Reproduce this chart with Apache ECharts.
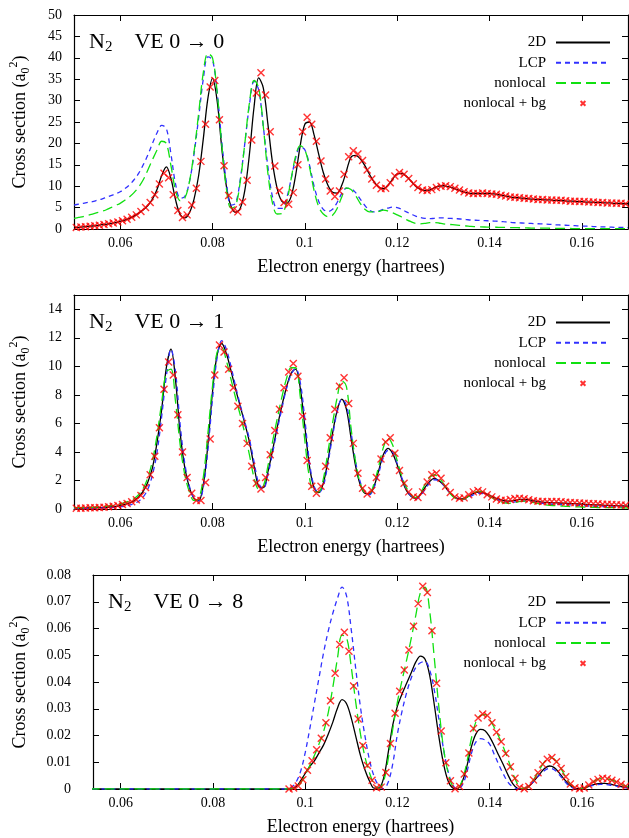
<!DOCTYPE html>
<html><head><meta charset="utf-8">
<script src="https://cdn.jsdelivr.net/npm/echarts@6/dist/echarts.min.js"></script>
<style>html,body{margin:0;padding:0;background:#fff}#c{width:629px;height:838px}</style>
</head><body><div id="c"></div><script>
// energy grid of the computed curves (hartrees)
const lineE = [
0.050,0.051,0.052,0.053,0.054,0.055,0.056,0.057,0.058,0.059,
0.060,0.061,0.062,0.063,0.064,0.065,0.066,0.067,0.068,0.069,
0.070,0.071,0.072,0.073,0.074,0.075,0.076,0.077,0.078,0.079,
0.080,0.081,0.082,0.083,0.084,0.085,0.086,0.087,0.088,0.089,
0.090,0.091,0.092,0.093,0.094,0.095,0.096,0.097,0.098,0.099,
0.100,0.101,0.102,0.103,0.104,0.105,0.106,0.107,0.108,0.109,
0.110,0.111,0.112,0.113,0.114,0.115,0.116,0.117,0.118,0.119,
0.120,0.121,0.122,0.123,0.124,0.125,0.126,0.127,0.128,0.129,
0.130,0.131,0.132,0.133,0.134,0.135,0.136,0.137,0.138,0.139,
0.140,0.141,0.142,0.143,0.144,0.145,0.146,0.147,0.148,0.149,
0.150,0.151,0.152,0.153,0.154,0.155,0.156,0.157,0.158,0.159,
0.160,0.161,0.162,0.163,0.164,0.165,0.166,0.167,0.168,0.169,0.170];
// energies of the "nonlocal + bg" points
const markerE = [
0.0505,0.0515,0.0525,0.0535,0.0545,0.0555,0.0565,0.0575,0.0585,0.0595,
0.0605,0.0615,0.0625,0.0635,0.0645,0.0655,0.0665,0.0675,0.0685,0.0695,
0.0705,0.0715,0.0725,0.0735,0.0745,0.0755,0.0765,0.0775,0.0785,0.0795,
0.0805,0.0815,0.0825,0.0835,0.0845,0.0855,0.0865,0.0875,0.0885,0.0895,
0.0905,0.0915,0.0925,0.0935,0.0945,0.0955,0.0965,0.0975,0.0985,0.0995,
0.1005,0.1015,0.1025,0.1035,0.1045,0.1055,0.1065,0.1075,0.1085,0.1095,
0.1105,0.1115,0.1125,0.1135,0.1145,0.1155,0.1165,0.1175,0.1185,0.1195,
0.1205,0.1215,0.1225,0.1235,0.1245,0.1255,0.1265,0.1275,0.1285,0.1295,
0.1305,0.1315,0.1325,0.1335,0.1345,0.1355,0.1365,0.1375,0.1385,0.1395,
0.1405,0.1415,0.1425,0.1435,0.1445,0.1455,0.1465,0.1475,0.1485,0.1495,
0.1505,0.1515,0.1525,0.1535,0.1545,0.1555,0.1565,0.1575,0.1585,0.1595,
0.1605,0.1615,0.1625,0.1635,0.1645,0.1655,0.1665,0.1675,0.1685,0.1695];

// ---- Panel 1: VE 0 -> 0 ----
const p1_2D = [
0.3,0.4,0.5,0.6,0.7,0.8,1.0,1.1,1.3,1.5,
1.8,2.1,2.5,3.0,3.7,4.5,5.5,7.0,9.3,12.5,
14.5,11.8,6.8,3.4,2.6,3.8,7.0,12.5,21.0,30.5,
35.2,30.0,19.0,10.0,5.3,3.9,4.8,9.0,17.5,28.5,
35.3,33.0,24.5,15.5,9.5,6.5,6.0,7.5,12.5,19.5,
24.5,25.0,22.0,17.5,13.2,10.2,8.6,8.4,10.2,13.5,
16.8,17.2,16.4,14.8,12.8,11.0,9.8,9.4,10.2,11.6,
12.9,13.0,12.3,11.2,10.0,9.3,9.0,9.1,9.6,10.0,
10.1,9.9,9.6,9.2,8.8,8.5,8.3,8.3,8.3,8.3,
8.3,8.2,8.0,7.8,7.6,7.4,7.3,7.2,7.1,7.0,
6.9,6.9,6.8,6.8,6.7,6.7,6.6,6.5,6.5,6.4,
6.4,6.3,6.3,6.2,6.2,6.1,6.1,6.0,6.0,5.9,5.9];
const p1_LCP = [
5.6,5.8,6.0,6.2,6.4,6.7,7.0,7.4,7.8,8.2,
8.7,9.4,10.3,11.5,13.0,15.0,17.3,20.0,22.5,24.2,
23.5,17.5,10.5,7.2,7.6,11.0,17.5,26.0,35.0,40.2,
39.5,32.0,20.5,11.0,5.6,6.0,11.5,20.0,29.0,34.5,
32.5,24.0,14.5,7.5,4.8,4.8,7.0,11.5,16.5,19.2,
18.5,15.0,10.0,6.5,4.6,4.1,4.6,6.2,8.3,9.5,
9.4,8.5,7.0,5.5,4.4,4.0,4.2,4.6,4.9,5.1,
5.0,4.6,4.0,3.5,3.0,2.7,2.5,2.4,2.5,2.6,
2.6,2.5,2.45,2.4,2.3,2.2,2.1,2.05,2.0,1.95,
1.9,1.85,1.8,1.7,1.6,1.5,1.45,1.4,1.35,1.3,
1.25,1.2,1.15,1.1,1.0,0.95,0.9,0.85,0.8,0.75,
0.7,0.65,0.6,0.55,0.5,0.48,0.45,0.4,0.38,0.35,0.32];
const p1_nonlocal = [
2.5,2.7,2.9,3.2,3.5,3.8,4.1,4.5,5.0,5.5,
6.0,6.7,7.5,8.5,9.8,11.5,13.8,16.2,18.5,20.5,
20.0,14.8,9.0,6.6,7.2,11.0,18.0,27.0,36.5,41.0,
40.0,32.0,19.8,9.5,4.9,5.4,11.0,20.0,29.5,34.7,
33.0,24.0,13.0,6.0,3.5,3.6,6.0,11.5,17.0,19.5,
18.5,14.5,9.0,5.2,3.5,2.9,3.2,4.8,7.5,9.6,
9.2,7.8,6.0,4.6,4.0,4.0,4.1,4.4,4.2,3.8,
3.3,2.8,2.2,1.7,1.3,1.2,1.3,1.5,1.5,1.4,
1.2,1.1,1.0,0.9,0.8,0.7,0.6,0.55,0.5,0.47,
0.45,0.42,0.4,0.38,0.35,0.32,0.3,0.28,0.25,0.22,
0.2,0.2,0.2,0.18,0.15,0.15,0.15,0.13,0.1,0.1,
0.1,0.1,0.1,0.1,0.1,0.1,0.1,0.1,0.1,0.1,0.1];
const p1_bg = [
0.35,0.45,0.55,0.65,0.75,0.9,1.05,1.2,1.4,1.65,
1.95,2.3,2.75,3.3,4.1,5.0,6.2,8.0,10.5,13.0,
12.0,8.0,4.3,2.7,3.3,5.6,9.5,15.8,24.5,33.2,
34.7,25.5,14.8,7.8,4.5,4.0,6.3,11.4,20.8,31.8,
36.5,31.3,22.7,14.7,9.0,6.2,5.8,8.5,15.0,22.7,
26.1,24.5,20.5,15.9,11.7,8.9,7.6,8.9,12.8,16.9,
18.3,17.5,16.0,13.8,11.7,10.2,9.4,9.5,10.8,12.4,
13.2,12.8,11.8,10.6,9.7,9.1,9.0,9.2,9.7,10.0,
10.1,9.9,9.5,9.1,8.7,8.4,8.3,8.3,8.4,8.3,
8.2,8.1,7.9,7.7,7.5,7.4,7.3,7.2,7.1,7.0,
6.9,6.9,6.8,6.8,6.7,6.7,6.6,6.5,6.5,6.4,
6.4,6.3,6.3,6.2,6.2,6.1,6.1,6.0,6.0,5.9];

// ---- Panel 2: VE 0 -> 1 ----
const p2_2D = [
0.05,0.05,0.06,0.07,0.08,0.09,0.10,0.12,0.15,0.18,
0.24,0.32,0.42,0.58,0.85,1.25,1.9,2.9,4.7,7.0,
9.9,11.2,9.0,5.3,2.9,1.5,0.75,0.6,1.7,4.5,
8.2,10.8,11.6,10.9,9.7,8.4,7.2,6.0,4.7,3.0,
1.6,1.5,2.6,4.1,5.7,7.2,8.5,9.5,9.8,8.5,
5.8,3.0,1.5,1.15,1.8,3.4,5.3,6.9,7.7,7.0,
5.0,3.0,1.7,1.1,1.05,1.6,2.7,3.8,4.25,3.9,
3.1,2.1,1.3,0.9,0.75,1.0,1.5,1.9,2.15,2.0,
1.7,1.3,0.95,0.75,0.7,0.8,1.0,1.15,1.2,1.1,
0.95,0.8,0.7,0.6,0.55,0.58,0.63,0.68,0.68,0.62,
0.55,0.5,0.47,0.45,0.43,0.42,0.41,0.4,0.38,0.36,
0.34,0.32,0.3,0.29,0.28,0.26,0.25,0.24,0.22,0.21,0.2];
const p2_LCP = [
0.03,0.03,0.04,0.04,0.05,0.06,0.07,0.08,0.1,0.12,
0.15,0.2,0.27,0.38,0.55,0.85,1.4,2.4,4.0,6.5,
9.3,11.2,9.6,5.9,3.2,1.6,0.75,0.55,1.5,4.1,
7.7,10.6,11.8,11.2,10.0,8.6,7.3,6.1,4.9,3.3,
1.8,1.4,2.4,3.9,5.5,7.0,8.4,9.4,9.85,8.9,
6.3,3.3,1.6,1.15,1.6,3.2,5.1,6.8,7.7,7.3,
5.4,3.3,1.9,1.15,1.0,1.5,2.5,3.6,4.1,4.0,
3.2,2.2,1.4,0.9,0.7,0.9,1.35,1.8,2.05,2.0,
1.7,1.3,0.95,0.72,0.65,0.72,0.9,1.05,1.1,1.05,
0.9,0.75,0.62,0.52,0.47,0.48,0.52,0.56,0.57,0.53,
0.47,0.42,0.38,0.35,0.33,0.32,0.31,0.3,0.28,0.26,
0.24,0.22,0.2,0.19,0.18,0.17,0.16,0.15,0.14,0.13,0.12];
const p2_nonlocal = [
0.08,0.09,0.1,0.11,0.12,0.14,0.16,0.19,0.23,0.28,
0.35,0.44,0.56,0.72,1.0,1.45,2.2,3.4,5.2,7.5,
9.6,9.8,7.5,4.5,2.4,1.2,0.6,0.7,2.2,5.3,
8.6,11.0,11.3,10.4,9.1,7.8,6.6,5.3,3.8,2.2,
1.4,1.6,3.0,4.7,6.3,7.8,9.1,9.9,9.9,7.9,
4.8,2.2,1.2,1.2,2.1,4.0,6.0,7.8,9.0,8.6,
5.7,3.3,1.8,1.15,1.1,1.8,3.0,4.3,5.0,4.5,
3.4,2.3,1.5,1.0,0.8,1.1,1.7,2.2,2.4,2.2,
1.8,1.3,0.9,0.7,0.65,0.8,1.0,1.2,1.25,1.1,
0.9,0.7,0.55,0.45,0.4,0.42,0.48,0.55,0.55,0.5,
0.42,0.35,0.3,0.26,0.24,0.22,0.2,0.18,0.16,0.15,
0.14,0.13,0.12,0.11,0.1,0.1,0.09,0.09,0.08,0.08,0.07];
const p2_bg = [
0.05,0.06,0.07,0.08,0.09,0.11,0.13,0.16,0.2,0.25,
0.31,0.39,0.5,0.65,0.95,1.5,2.4,3.7,5.7,8.4,
10.3,9.4,6.6,4.0,2.2,1.1,0.6,0.6,1.85,4.9,
9.4,11.5,11.0,9.8,8.5,7.2,6.0,4.6,3.0,1.8,
1.4,2.2,3.8,5.5,7.0,8.5,9.6,10.2,9.3,6.5,
3.4,1.6,1.1,1.6,3.0,5.0,7.0,8.6,9.2,7.4,
4.6,2.5,1.45,1.05,1.3,2.2,3.5,4.7,5.0,3.9,
2.7,1.8,1.2,0.85,0.8,1.2,1.9,2.4,2.5,2.15,
1.6,1.15,0.85,0.75,0.78,1.0,1.2,1.3,1.2,1.0,
0.85,0.7,0.62,0.6,0.66,0.73,0.75,0.72,0.65,0.58,
0.54,0.52,0.51,0.52,0.52,0.5,0.48,0.46,0.44,0.42,
0.41,0.39,0.37,0.36,0.34,0.33,0.31,0.3,0.28,0.26];

// ---- Panel 3: VE 0 -> 8 ----
const p3_2D = [
0,0,0,0,0,0,0,0,0,0,
0,0,0,0,0,0,0,0,0,0,
0,0,0,0,0,0,0,0,0,0,
0,0,0,0,0,0,0,0,0,0,
0,0,0,0,0,0,0,0.0001,0.0008,0.003,
0.0058,0.0085,0.0105,0.0135,0.0165,0.0205,0.025,0.0302,0.0334,0.0318,
0.0265,0.0195,0.0125,0.007,0.0028,0.0003,0.0004,0.004,0.0135,0.024,
0.031,0.0355,0.0395,0.0435,0.0475,0.0497,0.0485,0.0425,0.0315,0.0195,
0.0095,0.003,0.0004,0.0001,0.0025,0.008,0.0155,0.0205,0.0223,0.0218,
0.0195,0.0162,0.0125,0.009,0.0052,0.002,0.0003,0,0.0004,0.0018,
0.0038,0.0059,0.0078,0.0086,0.008,0.0062,0.004,0.002,0.0006,0.0001,
0.0001,0.0006,0.0013,0.0018,0.0021,0.0021,0.0019,0.0015,0.0011,0.0007,0.0004];
const p3_LCP = [
0,0,0,0,0,0,0,0,0,0,
0,0,0,0,0,0,0,0,0,0,
0,0,0,0,0,0,0,0,0,0,
0,0,0,0,0,0,0,0,0,0,
0,0,0,0,0,0,0,0.0005,0.0025,0.0065,
0.0135,0.0225,0.032,0.0415,0.051,0.059,0.0657,0.0712,0.0755,0.072,
0.0595,0.0445,0.0305,0.0195,0.0105,0.0045,0.0012,0.0001,0.0025,0.0095,
0.0205,0.029,0.036,0.0415,0.0455,0.0472,0.0476,0.0445,0.037,0.026,
0.015,0.0065,0.0015,0,0.0012,0.0058,0.013,0.0175,0.0188,0.0183,
0.0168,0.013,0.009,0.0055,0.0025,0.0008,0.0001,0,0.0004,0.0018,
0.0038,0.0055,0.007,0.0077,0.0072,0.0055,0.0034,0.0015,0.0004,0,
0.0002,0.0007,0.0012,0.0015,0.0017,0.0017,0.0015,0.0012,0.0009,0.0006,0.0004];
const p3_nonlocal = [
0,0,0,0,0,0,0,0,0,0,
0,0,0,0,0,0,0,0,0,0,
0,0,0,0,0,0,0,0,0,0,
0,0,0,0,0,0,0,0,0,0,
0,0,0,0,0,0,0,0.0001,0.0007,0.0022,
0.0052,0.0088,0.0125,0.0168,0.0215,0.0285,0.038,0.0488,0.0575,0.0565,
0.0455,0.032,0.0205,0.0118,0.0058,0.0016,0.0002,0.0028,0.0112,0.0225,
0.0325,0.0405,0.0482,0.0563,0.065,0.0735,0.0755,0.0665,0.049,0.0305,
0.0152,0.006,0.001,0.0002,0.003,0.0095,0.0185,0.025,0.0275,0.0278,
0.026,0.023,0.0195,0.0155,0.011,0.006,0.002,0.0002,0.0004,0.002,
0.0048,0.0078,0.0104,0.0117,0.0112,0.009,0.006,0.003,0.001,0.0002,
0.0002,0.0008,0.002,0.0032,0.0039,0.004,0.0036,0.003,0.0022,0.0014,0.0008];
const p3_bg = [
null,null,null,null,null,null,null,null,null,null,
null,null,null,null,null,null,null,null,null,null,
null,null,null,null,null,null,null,null,null,null,
null,null,null,null,null,null,null,null,null,null,
null,null,null,null,null,null,0.0,0.0004,0.0011,0.0035,
0.007,0.0106,0.0147,0.019,0.0248,0.033,0.0433,0.054,0.0586,0.0515,
0.0385,0.0262,0.0163,0.0088,0.0033,0.0005,0.0007,0.0062,0.017,0.0283,
0.0365,0.0445,0.052,0.0608,0.0693,0.0758,0.0735,0.0592,0.0395,0.0217,
0.0098,0.0031,0.0001,0.0009,0.0056,0.0135,0.0226,0.0265,0.028,0.0275,
0.0248,0.0212,0.0177,0.0133,0.0083,0.004,0.0006,0.0001,0.0009,0.0034,
0.0061,0.0093,0.0111,0.0118,0.0102,0.0077,0.0046,0.0019,0.0005,0.0001,
0.0004,0.0015,0.0027,0.0036,0.004,0.0038,0.0033,0.0026,0.0018,0.001];

// ticks and labels
const xTicks = [0.06,0.08,0.1,0.12,0.14,0.16];
const p1_yTicks = [0,5,10,15,20,25,30,35,40,45,50];
const p2_yTicks = [0,2,4,6,8,10,12,14];
const p3_yTicks = [0,0.01,0.02,0.03,0.04,0.05,0.06,0.07,0.08];
const seriesNames = ['2D','LCP','nonlocal','nonlocal + bg'];
const panelTitles = ['0 \u2192 0','0 \u2192 1','0 \u2192 8'];

const FONT = '"Liberation Serif", "Times New Roman", serif';
const chart = echarts.init(document.getElementById('c'), null, {renderer:'canvas'});

const grids = [
  {left:73, top:15, width:555, height:214},
  {left:73, top:295, width:555, height:214},
  {left:92, top:575, width:536, height:214}
];
const xMins = [0.05, 0.05, 0.054];
const yMax = [50, 15, 0.08];
const yTicksAll = [p1_yTicks, p2_yTicks, p3_yTicks];
const yLabelMargin = [12, 12, 22];
const yNameGap = [42, 42, 61];
const panels = [
  [p1_2D, p1_LCP, p1_nonlocal, p1_bg],
  [p2_2D, p2_LCP, p2_nonlocal, p2_bg],
  [p3_2D, p3_LCP, p3_nonlocal, p3_bg]
];
const pair = (xs, ys) => xs.map((x, i) => [x, ys[i]]);

const xAxis = [], yAxis = [], series = [], legend = [], graphic = [];
const crossPath = 'path://M0,0L10,10M10,0L0,10';
const crossLegend = 'path://M0,0M3,3L7,7M7,3L3,7M10,10';
const hiddenSym = {opacity:0, color:'transparent', borderWidth:0};
grids.forEach((g, i) => {
  xAxis.push({
    type:'value', gridIndex:i, min:xMins[i], max:0.17, position:'bottom',
    axisLine:{show:true, onZero:false, lineStyle:{color:'#000', width:1.2}},
    axisTick:{show:true, inside:true, length:6, customValues:xTicks, lineStyle:{color:'#000'}},
    axisLabel:{show:true, customValues:xTicks, margin:7, color:'#000', fontFamily:FONT, fontSize:14},
    splitLine:{show:false},
    name:'Electron energy (hartrees)', nameLocation:'middle', nameGap:29,
    nameTextStyle:{color:'#000', fontFamily:FONT, fontSize:18}
  });
  xAxis.push({
    type:'value', gridIndex:i, min:xMins[i], max:0.17, position:'top',
    axisLine:{show:true, onZero:false, lineStyle:{color:'#000', width:1.2}},
    axisTick:{show:true, inside:true, length:6, customValues:xTicks, lineStyle:{color:'#000'}},
    axisLabel:{show:false}, splitLine:{show:false}
  });
  yAxis.push({
    type:'value', gridIndex:i, min:0, max:yMax[i], position:'left',
    axisLine:{show:true, onZero:false, lineStyle:{color:'#000', width:1.2}},
    axisTick:{show:true, inside:true, length:6, customValues:yTicksAll[i], lineStyle:{color:'#000'}},
    axisLabel:{show:true, customValues:yTicksAll[i], margin:yLabelMargin[i], color:'#000', fontFamily:FONT, fontSize:14},
    splitLine:{show:false},
    name:'Cross section (a{sub|0}{sup|2})', nameLocation:'middle', nameRotate:90, nameGap:yNameGap[i],
    nameTextStyle:{color:'#000', fontFamily:FONT, fontSize:18, lineHeight:24,
      rich:{sub:{fontFamily:FONT, fontSize:12, lineHeight:12, verticalAlign:'bottom', color:'#000'},
            sup:{fontFamily:FONT, fontSize:12, lineHeight:12, verticalAlign:'top', color:'#000'}}}
  });
  yAxis.push({
    type:'value', gridIndex:i, min:0, max:yMax[i], position:'right',
    axisLine:{show:true, onZero:false, lineStyle:{color:'#000', width:1.2}},
    axisTick:{show:true, inside:true, length:6, customValues:yTicksAll[i], lineStyle:{color:'#000'}},
    axisLabel:{show:false}, splitLine:{show:false}
  });
  const d = panels[i];
  series.push({name:'2D', type:'line', xAxisIndex:2*i, yAxisIndex:2*i, data:pair(lineE, d[0]),
    symbol:'none', smooth:0.35, lineStyle:{color:'#000', width:1.3, type:'solid'}, itemStyle:{color:'#000'}, z:2});
  series.push({name:'LCP', type:'line', xAxisIndex:2*i, yAxisIndex:2*i, data:pair(lineE, d[1]),
    symbol:'none', smooth:0.35, lineStyle:{color:'#3030ff', width:1.3, type:[5,4]}, itemStyle:{color:'#3030ff'}, z:3});
  series.push({name:'nonlocal', type:'line', xAxisIndex:2*i, yAxisIndex:2*i, data:pair(lineE, d[2]),
    symbol:'none', smooth:0.35, lineStyle:{color:'#10e010', width:1.3, type:[10,5]}, itemStyle:{color:'#10e010'}, z:4});
  series.push({name:'nonlocal + bg', type:'scatter', xAxisIndex:2*i, yAxisIndex:2*i,
    data:pair(markerE, d[3]).filter(p => p[1] !== null),
    symbol:crossPath, symbolSize:7, itemStyle:{color:'#ff0000', borderColor:'#ff0000', borderWidth:1.4}, z:5});
  legend.push({
    orient:'vertical', align:'right', right:18, top:g.top + 20, padding:0,
    itemWidth:54, itemHeight:12, itemGap:5.3, selectedMode:false,
    textStyle:{color:'#000', fontFamily:FONT, fontSize:15, padding:[0,5,0,0]},
    data:[{name:'2D', itemStyle:hiddenSym},{name:'LCP', itemStyle:hiddenSym},
          {name:'nonlocal', itemStyle:hiddenSym},{name:'nonlocal + bg', icon:crossLegend}]
  });
  graphic.push({
    type:'text', x:g.left + 16, y:g.top + 27, z:10,
    style:{text:'N{s|2}    VE ' + panelTitles[i], fill:'#000', font:'22px ' + FONT, verticalAlign:'middle', lineHeight:26,
      rich:{s:{font:'15px ' + FONT, fontSize:15, fontFamily:FONT, lineHeight:15, verticalAlign:'bottom', fill:'#000'}}}
  });
});

chart.setOption({
  backgroundColor:'#fff', animation:false,
  grid:grids, xAxis:xAxis, yAxis:yAxis, series:series, legend:legend, graphic:graphic
});
</script></body></html>
